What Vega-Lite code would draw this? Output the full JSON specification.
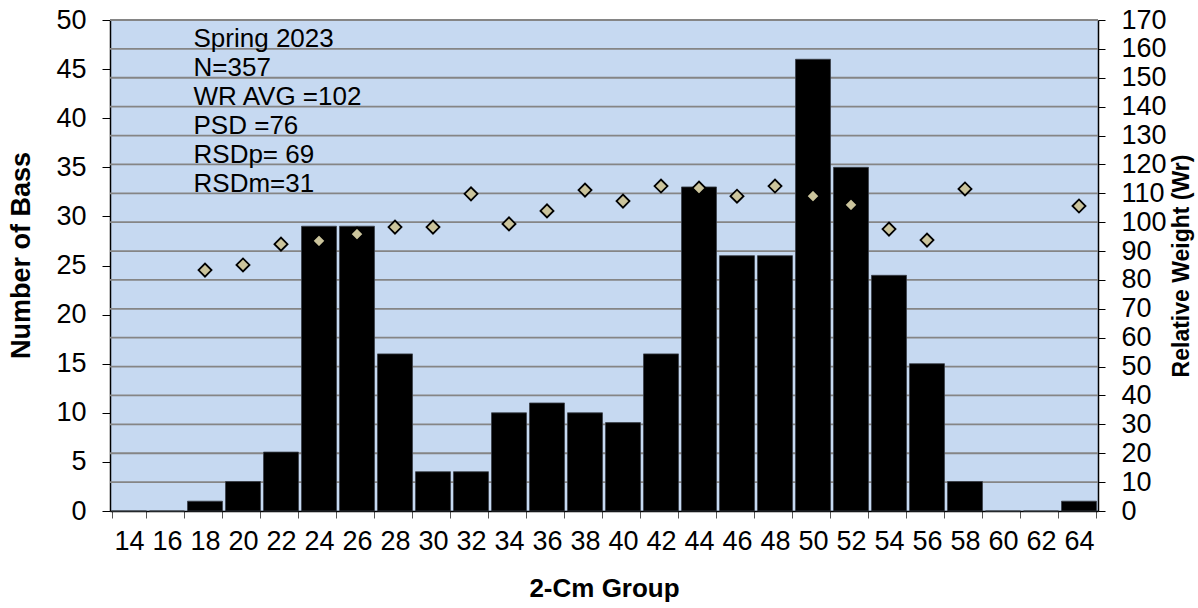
{
  "$schema": "https://vega.github.io/schema/vega-lite/v6.json",
  "width": 988,
  "height": 491,
  "autosize": "none",
  "padding": {"left": 110, "top": 20, "right": 100, "bottom": 97},
  "background": "white",
  "config": {
    "font": "Liberation Sans",
    "view": {"fill": "#c6d9f1", "stroke": null},
    "axis": {"labelFont": "Liberation Sans", "titleFont": "Liberation Sans", "labelColor": "black", "titleColor": "black"}
  },
  "data": {
    "values": [
      {"group": "14", "n": 0, "wr": null},
      {"group": "16", "n": 0, "wr": null},
      {"group": "18", "n": 1, "wr": 83.4},
      {"group": "20", "n": 3, "wr": 85.2},
      {"group": "22", "n": 6, "wr": 92.4},
      {"group": "24", "n": 29, "wr": 93.5},
      {"group": "26", "n": 29, "wr": 95.9},
      {"group": "28", "n": 16, "wr": 98.3},
      {"group": "30", "n": 4, "wr": 98.3},
      {"group": "32", "n": 4, "wr": 109.8},
      {"group": "34", "n": 10, "wr": 99.4},
      {"group": "36", "n": 11, "wr": 103.9},
      {"group": "38", "n": 10, "wr": 111.1},
      {"group": "40", "n": 9, "wr": 107.3},
      {"group": "42", "n": 16, "wr": 112.5},
      {"group": "44", "n": 33, "wr": 111.8},
      {"group": "46", "n": 26, "wr": 109.0},
      {"group": "48", "n": 26, "wr": 112.5},
      {"group": "50", "n": 46, "wr": 109.0},
      {"group": "52", "n": 35, "wr": 106.0},
      {"group": "54", "n": 24, "wr": 97.6},
      {"group": "56", "n": 15, "wr": 93.8},
      {"group": "58", "n": 3, "wr": 111.5},
      {"group": "60", "n": 0, "wr": null},
      {"group": "62", "n": 0, "wr": null},
      {"group": "64", "n": 1, "wr": 105.6}
    ]
  },
  "encoding": {
    "x": {
      "field": "group",
      "type": "ordinal",
      "sort": null,
      "scale": {"paddingInner": 0.08, "paddingOuter": 0.04},
      "axis": {
        "title": "2-Cm Group",
        "titleFontSize": 26,
        "titleFontWeight": "bold",
        "titlePadding": 21,
        "labelFontSize": 27,
        "labelAngle": 0,
        "labelPadding": 10,
        "tickBand": "extent",
        "tickSize": 7,
        "tickColor": "#555555",
        "domainColor": "black",
        "domainWidth": 1.5,
        "grid": false
      }
    }
  },
  "layer": [
    {
      "mark": {"type": "rule", "color": "#858585", "strokeWidth": 1.8},
      "data": {"values": [{"v":10},{"v":20},{"v":30},{"v":40},{"v":50},{"v":60},{"v":70},{"v":80},{"v":90},{"v":100},{"v":110},{"v":120},{"v":130},{"v":140},{"v":150},{"v":160},{"v":170}]},
      "encoding": {
        "x": null,
        "y": {"field": "v", "type": "quantitative", "scale": {"domain": [0, 170]}, "axis": null}
      }
    },
    {
      "mark": {"type": "bar", "color": "black", "stroke": "#3a3f48", "strokeWidth": 0.8},
      "encoding": {
        "y": {
          "field": "n",
          "type": "quantitative",
          "scale": {"domain": [0, 50]},
          "axis": {
            "orient": "left",
            "title": "Number of Bass",
            "titleFontSize": 27,
            "titleFontWeight": "bold",
            "titlePadding": 20,
            "titleY": 235,
            "labelFontSize": 27,
            "labelPadding": 16,
            "values": [0,5,10,15,20,25,30,35,40,45,50],
            "tickSize": 8,
            "tickColor": "black",
            "domainColor": "black",
            "domainWidth": 1.5,
            "grid": false
          }
        }
      }
    },
    {
      "mark": {"type": "point", "shape": "diamond", "filled": true, "size": 170, "color": "#cbc49c", "stroke": "black", "strokeWidth": 1.8, "opacity": 1},
      "transform": [{"filter": "datum.wr != null"}],
      "encoding": {
        "y": {
          "field": "wr",
          "type": "quantitative",
          "scale": {"domain": [0, 170]},
          "axis": {
            "orient": "right",
            "title": "Relative Weight (Wr)",
            "titleFontSize": 23,
            "titleFontWeight": "bold",
            "titleAngle": 270,
            "titleBaseline": "top",
            "titlePadding": 4,
            "labelFontSize": 27,
            "labelPadding": 16,
            "values": [0,10,20,30,40,50,60,70,80,90,100,110,120,130,140,150,160,170],
            "tickSize": 7,
            "tickColor": "black",
            "domainColor": "black",
            "domainWidth": 1.5,
            "grid": false
          }
        }
      }
    },
    {
      "mark": {"type": "text", "align": "left", "baseline": "alphabetic", "fontSize": 26, "lineHeight": 29, "dx": 6, "color": "black"},
      "data": {"values": [{"group": "18", "y": 47.25, "label": ["Spring 2023", "N=357", "WR AVG =102", "PSD =76", "RSDp= 69", "RSDm=31"]}]},
      "encoding": {
        "x": {"field": "group", "type": "ordinal", "bandPosition": 0},
        "y": {"field": "y", "type": "quantitative", "scale": {"domain": [0, 50]}, "axis": null},
        "text": {"field": "label"}
      }
    }
  ],
  "resolve": {"scale": {"y": "independent"}}
}
